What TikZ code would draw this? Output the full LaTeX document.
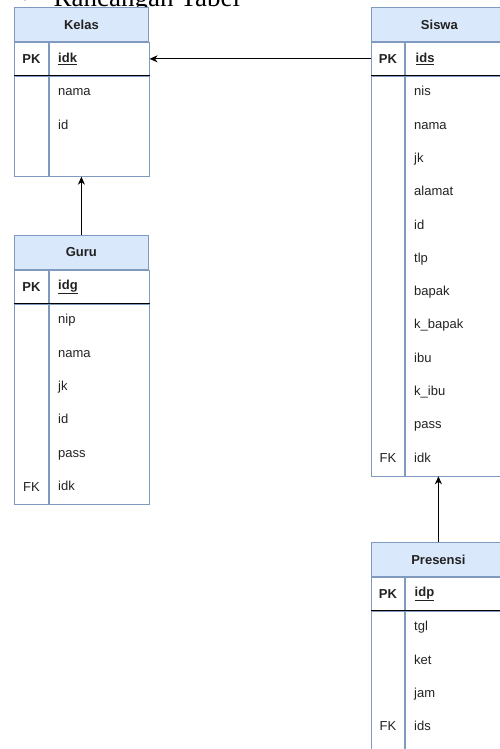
\documentclass[tikz,border=0pt]{standalone}
\usepackage{fontspec}
\setmainfont{Liberation Sans}
\newfontfamily\judulfont{Liberation Serif}
\usetikzlibrary{arrows.meta}
\definecolor{bordc}{HTML}{7F99BF}
\definecolor{hdrc}{HTML}{DAE8FC}
\definecolor{teksc}{HTML}{222222}
\begin{document}
\begin{tikzpicture}[x=1pt,y=1pt,line width=0.8pt,
  font=\fontsize{13}{15}\selectfont, text=teksc,
  hdr/.style={draw=bordc, fill=hdrc, minimum width=134pt, minimum height=34pt, inner sep=0pt, font=\fontsize{13}{15}\selectfont\bfseries, anchor=north west},
  keyc/.style={draw=bordc, minimum width=34pt, inner sep=0pt, anchor=north west},
  namec/.style={draw=bordc, minimum width=100pt, text width=82pt, inner xsep=9pt, inner ysep=0pt, align=left, anchor=north west},
  pkname/.style={namec, minimum height=33.3pt, font=\fontsize{13}{15}\selectfont\bfseries},
  fld/.style={anchor=west, inner sep=0pt, text height=9.5pt, text depth=3pt},
  fk/.style={inner sep=0pt, text height=9.5pt, text depth=3pt},
  rel/.style={draw=black, line width=0.8pt, -{Stealth[length=8pt,width=7pt]}},
  pkline/.style={draw=black, line width=0.9pt}]
\useasboundingbox (0,0) rectangle (500,-749);
\clip (0,0) rectangle (500,-749);

% judul
\node[font=\judulfont\fontsize{27}{30}\selectfont, anchor=base, text=black] (titik) at (25,-7) {•};
\node[font=\judulfont\fontsize{27}{30}\selectfont, anchor=base west, text=black] (judul) at (50,-7) {Rancangan Tabel};

% Kelas
\node[hdr] (kelas) at (14,-7) {Kelas};
\node[keyc, minimum height=33.3pt, font=\fontsize{13}{15}\selectfont\bfseries] (kelaspk) at (kelas.south west) {PK};
\node[pkname] (kelasidk) at (kelaspk.north east) {\underline{idk}};
\node[keyc, minimum height=100pt] (kelaskb) at (kelaspk.south west) {};
\node[namec, minimum height=100pt] (kelasbody) at (kelaskb.north east) {};
\path[pkline] (kelaspk.south west) -- (kelasidk.south east);
\foreach \f [count=\i] in {nama,id}
  \node[fld] (kelasf\i) at ([xshift=9pt,yshift={-16.65pt-33.3pt*(\i-1)}]kelasbody.north west) {\f};

% Guru
\node[hdr] (guru) at (14,-235) {Guru};
\node[keyc, minimum height=33.3pt, font=\fontsize{13}{15}\selectfont\bfseries] (gurupk) at (guru.south west) {PK};
\node[pkname] (guruidg) at (gurupk.north east) {\underline{idg}};
\node[keyc, minimum height=199.8pt] (gurukb) at (gurupk.south west) {};
\node[namec, minimum height=199.8pt] (gurubody) at (gurukb.north east) {};
\path[pkline] (gurupk.south west) -- (guruidg.south east);
\foreach \f [count=\i] in {nip,nama,jk,id,pass,idk}
  \node[fld] (guruf\i) at ([xshift=9pt,yshift={-16.65pt-33.3pt*(\i-1)}]gurubody.north west) {\f};
\node[fk] (gurufk) at ([yshift=16.65pt]gurukb.south) {FK};

% Siswa
\node[hdr, minimum width=136pt] (siswa) at (371,-7) {Siswa};
\node[keyc, minimum height=33.3pt, minimum width=33pt, font=\fontsize{13}{15}\selectfont\bfseries] (siswapk) at (siswa.south west) {PK};
\node[pkname, minimum width=103pt] (siswaids) at (siswapk.north east) {\underline{ids}};
\node[keyc, minimum height=399.6pt, minimum width=33pt] (siswakb) at (siswapk.south west) {};
\node[namec, minimum height=399.6pt, minimum width=103pt] (siswabody) at (siswakb.north east) {};
\path[pkline] (siswapk.south west) -- (siswaids.south east);
\foreach \f [count=\i] in {nis,nama,jk,alamat,id,tlp,bapak,k\_bapak,ibu,k\_ibu,pass,idk}
  \node[fld] (siswaf\i) at ([xshift=9pt,yshift={-16.65pt-33.3pt*(\i-1)}]siswabody.north west) {\f};
\node[fk] (siswafk) at ([yshift=16.65pt]siswakb.south) {FK};

% Presensi
\node[hdr, minimum width=134pt] (presensi) at (371,-542) {Presensi};
\node[keyc, minimum height=33.3pt, minimum width=33pt, font=\fontsize{13}{15}\selectfont\bfseries] (presensipk) at (presensi.south west) {PK};
\node[pkname, minimum width=101pt] (presensiidp) at (presensipk.north east) {\underline{idp}};
\node[keyc, minimum height=166.5pt, minimum width=33pt] (presensikb) at (presensipk.south west) {};
\node[namec, minimum height=166.5pt, minimum width=101pt] (presensibody) at (presensikb.north east) {};
\path[pkline] (presensipk.south west) -- (presensiidp.south east);
\foreach \f [count=\i] in {tgl,ket,jam,ids}
  \node[fld] (presensif\i) at ([xshift=9pt,yshift={-16.65pt-33.3pt*(\i-1)}]presensibody.north west) {\f};
\node[fk] (presensifk) at ([yshift=-116.55pt]presensikb.north) {FK};

% relasi
\path[rel] (siswapk.west) -- (kelasidk.east);
\path[rel] (guru.north) -- (kelas.north |- kelasbody.south);
\path[rel] (presensi.north) -- (presensi.north |- siswabody.south);
\end{tikzpicture}
\end{document}
